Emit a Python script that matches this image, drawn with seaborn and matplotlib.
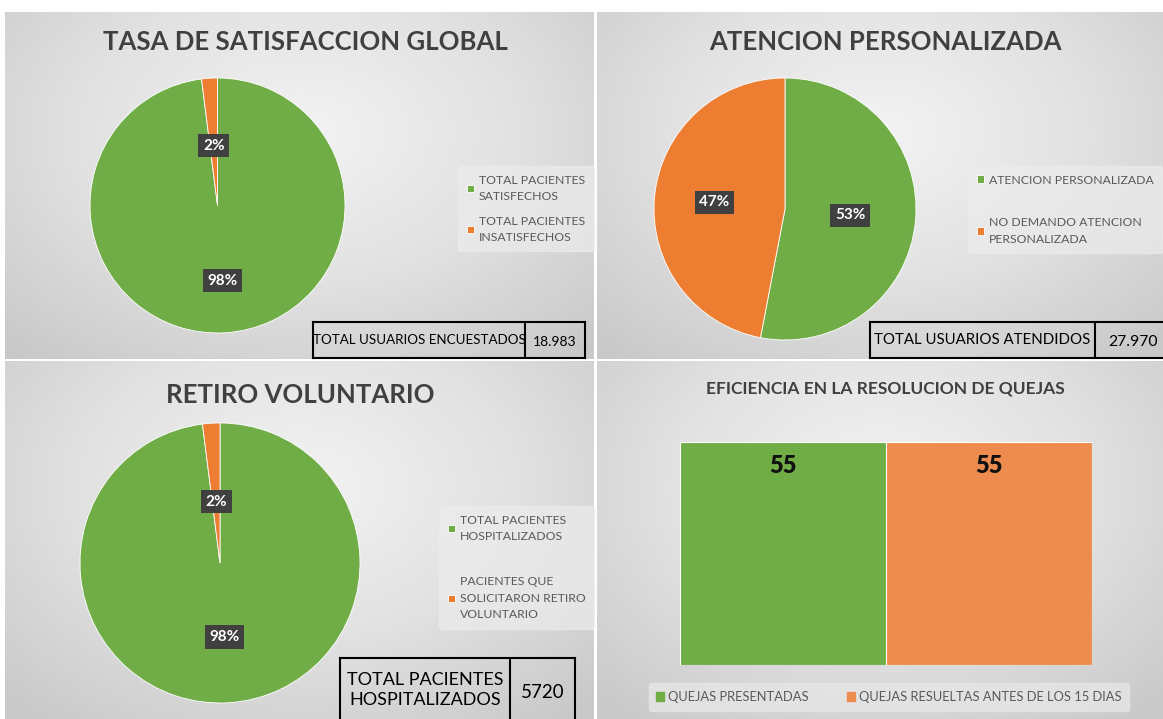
import numpy as np
import pandas as pd
import matplotlib
matplotlib.use("Agg")
import matplotlib.pyplot as plt
import seaborn as sns

sns.set_theme(style="white")
plt.rcParams['font.family'] = ['Lato', 'DejaVu Sans']

# data
sat_labels = ["TOTAL PACIENTES\nSATISFECHOS", "TOTAL PACIENTES\nINSATISFECHOS"]
sat_values = [98, 2]
sat_total = "18.983"

aten_labels = ["ATENCION PERSONALIZADA", "NO DEMANDO ATENCION\nPERSONALIZADA"]
aten_values = [53, 47]
aten_total = "27.970"

retiro_labels = ["TOTAL PACIENTES\nHOSPITALIZADOS", "PACIENTES QUE\nSOLICITARON RETIRO\nVOLUNTARIO"]
retiro_values = [98, 2]
retiro_total = "5720"

quejas_labels = ["QUEJAS PRESENTADAS", "QUEJAS RESUELTAS ANTES DE LOS 15 DIAS"]
quejas_values = [55, 55]

GREEN = "#70ad47"
ORANGE = "#ed7d31"
ORANGE_BAR = "#ee8c50"
TXT = "#595959"

W, H = 1163, 719
fig = plt.figure(figsize=(W / 100, H / 100), dpi=100)
fig.patch.set_facecolor("white")


def px(x0, y0, x1, y1):
    # pixel box (top-left origin) -> figure fraction rect
    return [x0 / W, 1 - y1 / H, (x1 - x0) / W, (y1 - y0) / H]


# grey gradient backgrounds for the four panels
yy, xx = np.mgrid[-1:1:200j, -1:1:200j]
grad = np.sqrt(xx ** 2 * 0.8 + (yy + 0.3) ** 2 * 0.6)
panels = [(5, 12, 594, 359), (597, 12, 1163, 359), (5, 361, 594, 719), (597, 361, 1163, 719)]
for p in panels:
    bg = fig.add_axes(px(*p), zorder=0)
    bg.imshow(grad, cmap=sns.blend_palette(["#f3f3f3", "#e2e2e2", "#c9c9c9"], as_cmap=True),
              aspect="auto", vmin=0, vmax=1.3)
    bg.axis("off")


def pie_panel(rect, values, labels, title, tx, ty, leg_xy, label_dist, leg_gap):
    ax = fig.add_axes(px(*rect), zorder=2)
    wedges, _, autos = ax.pie(values, colors=[GREEN, ORANGE], startangle=90, counterclock=False,
                              autopct="%.0f%%", pctdistance=1.0,
                              wedgeprops=dict(edgecolor="white", linewidth=0.6))
    ax.set_xlim(-1, 1)
    ax.set_ylim(-1, 1)
    for a, d in zip(autos, label_dist):
        x, y = a.get_position()
        a.set_position((x * d, y * d))
        a.set_color("white")
        a.set_fontweight("bold")
        a.set_fontsize(11)
        a.set_bbox(dict(boxstyle="square,pad=0.3", facecolor="#404040", edgecolor="none"))
    fig.text(tx / W, 1 - ty / H, title, ha="center", va="center", fontsize=18.5,
             fontweight="bold", color="#404040")
    leg = fig.legend(wedges, labels, loc="upper left", bbox_to_anchor=(leg_xy[0] / W, 1 - leg_xy[1] / H),
                     frameon=True, fontsize=8.8, labelcolor=TXT, handlelength=0.6, handleheight=0.6,
                     handletextpad=0.4, labelspacing=leg_gap, borderpad=0.7)
    for t in leg.get_texts():
        t.set_linespacing(1.6)
    leg.get_frame().set_facecolor("#ececec")
    leg.get_frame().set_edgecolor("#ececec")
    leg.get_frame().set_alpha(0.7)
    return ax


pie_panel((90, 78, 345, 333), sat_values, sat_labels, "TASA DE SATISFACCION GLOBAL", 305, 42,
          (452, 160), (0.59, 0.47), 1.1)
pie_panel((654, 78, 916, 340), aten_values, aten_labels, "ATENCION PERSONALIZADA", 885, 42,
          (962, 160), (0.5, 0.54), 2.6)
pie_panel((80, 423, 360, 703), retiro_values, retiro_labels, "RETIRO VOLUNTARIO", 300, 395,
          (433, 500), (0.53, 0.44), 2.8)


def total_box(x0, y0, xd, x1, y1, label, value, fs):
    ax = fig.add_axes(px(x0, y0, x1, y1), zorder=3)
    ax.set_xlim(x0, x1)
    ax.set_ylim(y1, y0)
    ax.set_facecolor("none")
    for s in ax.spines.values():
        s.set_color("black")
        s.set_linewidth(1.5)
    ax.axvline(xd, color="black", linewidth=1.5)
    ax.set_xticks([])
    ax.set_yticks([])
    ax.text((x0 + xd) / 2, (y0 + y1) / 2, label, ha="center", va="center", fontsize=fs,
            color="black", linespacing=1.35)
    ax.text((xd + x1) / 2, (y0 + y1) / 2 + 2, value, ha="center", va="center", fontsize=fs + 0.5,
            color="black")


total_box(313, 322, 525, 585, 358, "TOTAL USUARIOS ENCUESTADOS", sat_total, 9.6)
total_box(870, 322, 1095, 1170, 358, "TOTAL USUARIOS ATENDIDOS", aten_total, 10.8)
total_box(340, 658, 510, 575, 722, "TOTAL PACIENTES\nHOSPITALIZADOS", retiro_total, 13)

# bar chart
fig.text(885 / W, 1 - 388 / H, "EFICIENCIA EN LA RESOLUCION DE QUEJAS", ha="center", va="center",
         fontsize=12.5, fontweight="bold", color="#404040")
bx = fig.add_axes(px(680, 442, 1092, 665), zorder=2)
df = pd.DataFrame({"cat": quejas_labels, "val": quejas_values})
sns.barplot(data=df, x="cat", y="val", hue="cat", palette=[GREEN, ORANGE_BAR], width=1.0,
            saturation=1, edgecolor="white", linewidth=0.8, legend=False, ax=bx)
bx.set_xlim(-0.5, 1.5)
bx.set_ylim(0, 55)
bx.axis("off")
for i, v in enumerate(quejas_values):
    bx.text(i, v - 6, str(v), ha="center", va="center", fontsize=17, fontweight="heavy", color="#111111")
handles = [plt.Rectangle((0, 0), 1, 1, color=c) for c in [GREEN, ORANGE_BAR]]
leg = fig.legend(handles, quejas_labels, loc="center", bbox_to_anchor=(889 / W, 1 - 697 / H), ncol=2,
                 frameon=True, fontsize=9.3, labelcolor=TXT, handlelength=0.6, handleheight=0.6,
                 handletextpad=0.3, columnspacing=3.0, borderpad=0.6)
leg.get_frame().set_facecolor("#e6e6e6")
leg.get_frame().set_edgecolor("#e6e6e6")

fig.savefig("out.png", dpi=100)
